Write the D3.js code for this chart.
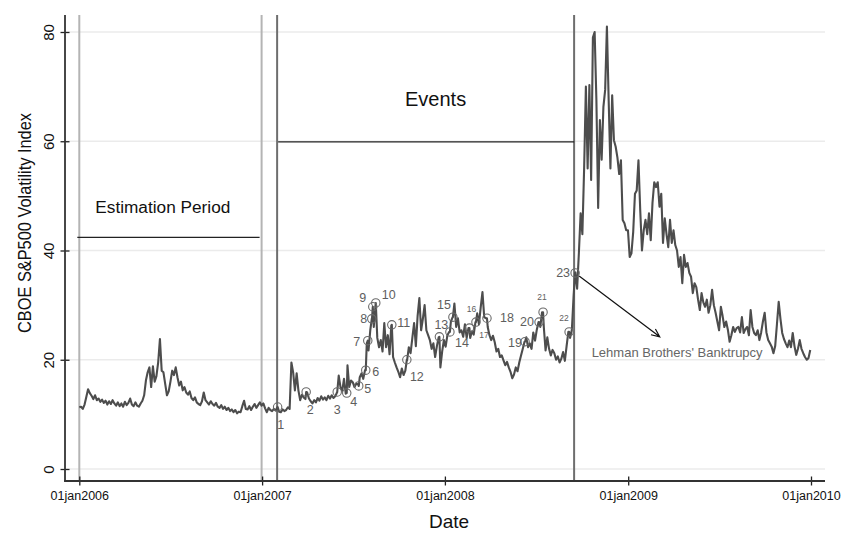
<!DOCTYPE html>
<html>
<head>
<meta charset="utf-8">
<script src="https://cdn.jsdelivr.net/npm/d3@7.9.0/dist/d3.min.js"></script>
<style>
  html, body { margin: 0; padding: 0; background: #fff; overflow: hidden; }
  svg { display: block; font-family: "Liberation Sans", Arial, Helvetica, sans-serif; }
</style>
</head>
<body>
<svg id="chart" width="842" height="533"></svg>
<script>
/* ------------------------------ Data ------------------------------ */
// CBOE VIX, one reading every half week from 01jan2006
const vix2006 = [
  11.3, 11.4, 11.0, 11.8, 13.2, 14.6, 13.9, 13.4, 12.8, 13.5,
  12.6, 12.9, 12.3, 12.7, 12.1, 12.5, 11.8, 12.4, 11.9, 12.6,
  12.0, 11.6, 12.2, 11.5, 12.0, 11.4, 12.3, 11.7, 12.1, 12.9,
  11.8, 11.5, 12.2, 11.6, 11.4, 12.0, 12.5, 13.5, 16.2, 17.7,
  18.6, 15.0, 18.8, 16.0, 17.0, 19.5, 23.8, 18.0, 17.7, 15.6,
  13.5, 14.2, 16.0, 18.0, 17.2, 18.6, 16.8, 15.3, 16.0, 14.4,
  15.0, 14.0, 13.6, 14.2, 13.0, 12.6, 13.1, 12.2, 11.9, 11.7,
  12.4, 14.0, 12.6, 12.2, 11.8, 12.4, 11.9, 11.6, 12.1, 11.4,
  11.2, 11.7, 11.0, 11.4, 10.8, 11.2, 10.6, 10.9, 10.4, 10.8,
  10.2, 10.5, 10.4, 11.5, 12.5, 11.0, 10.9, 11.5, 10.8, 11.4,
  11.9, 11.2, 11.7, 12.2
];
const vix2007 = [
  11.6, 12.0, 11.1, 10.4, 11.2, 10.8, 10.6, 11.0, 10.7, 11.3,
  10.5, 10.4, 10.9, 10.6, 10.8, 11.3, 11.0, 19.5, 17.7, 14.4,
  17.5, 14.4, 12.6, 13.6, 13.1, 12.8, 14.0, 12.9, 12.4, 12.0,
  12.6, 12.2, 13.0, 12.5, 13.3, 12.7, 13.1, 12.6, 13.4, 12.9,
  13.5, 13.0, 13.3, 14.0, 17.1, 15.0, 14.3, 16.5, 13.8, 19.0,
  15.0, 16.2, 15.9, 15.0, 15.6, 15.5, 16.8, 17.5, 16.5, 18.1,
  23.0, 21.7, 25.4, 27.6, 26.0, 30.0, 24.0, 22.3, 23.6, 21.5,
  26.7, 22.3, 24.5, 21.0, 26.3, 20.5, 19.5, 18.6, 17.8, 16.8,
  18.4, 17.2, 18.0, 19.9, 22.3, 21.2, 24.0, 26.7, 22.5, 28.0,
  31.3, 25.4, 27.5, 30.0, 25.4, 24.5, 23.6, 22.0, 23.0, 20.5,
  22.5, 24.1, 18.6, 21.5
];
const vix2008 = [
  23.6, 22.4, 24.5, 25.1, 27.0, 27.8, 30.3, 26.0, 27.6, 25.0,
  25.4, 24.2, 26.5, 24.0, 25.8, 24.0, 25.2, 24.6, 26.9, 28.5,
  26.5, 29.6, 32.4, 27.8, 27.6, 26.0, 24.5, 23.6, 24.4, 23.2,
  21.5, 22.0, 20.5, 20.8, 19.9, 19.0, 19.6, 18.6, 17.8, 16.6,
  17.3, 18.6, 17.9, 19.5, 20.8, 22.0, 23.3, 24.1, 22.3, 23.0,
  22.0, 25.0, 23.5, 25.5, 26.9, 26.0, 28.7, 26.0, 21.7, 24.1,
  22.0, 20.8, 21.8, 21.2, 20.0, 20.6, 19.5, 20.2, 21.4, 19.8,
  22.5, 25.1, 24.0, 25.5, 31.7, 36.0, 33.0, 39.5, 46.8, 43.0,
  55.0, 70.0, 55.0, 70.3, 52.9, 79.0, 80.0, 67.5, 47.8, 63.9,
  56.6, 66.3, 69.4, 81.0, 67.5, 55.0, 68.4, 60.2, 59.0, 57.0,
  54.0, 56.5, 45.6, 45.0, 43.7
];
const vix2009 = [
  43.7, 38.8, 39.5, 43.4, 50.4, 51.0, 56.5, 47.4, 40.0, 43.7,
  45.6, 43.0, 46.8, 41.9, 48.7, 52.5, 51.6, 52.5, 48.0, 50.4,
  41.4, 45.9, 43.0, 40.6, 45.6, 41.4, 43.7, 41.0, 40.0, 37.0,
  38.8, 34.0, 39.2, 37.0, 37.7, 35.9, 35.2, 32.2, 34.0, 33.3,
  31.0, 29.1, 32.2, 30.5, 29.7, 31.0, 28.6, 30.0, 32.8, 30.0,
  28.6, 27.0, 25.4, 29.7, 28.0, 26.0, 27.0, 25.5, 23.3, 24.5,
  26.0, 25.1, 25.8, 26.0, 25.0, 27.8, 24.9, 25.6, 26.0, 24.5,
  29.1, 26.0, 24.9, 24.5, 25.4, 23.6, 25.0, 27.0, 28.6, 25.0,
  23.6, 23.0, 22.4, 21.2, 22.5, 26.5, 30.6, 27.5, 24.9, 23.8,
  23.0, 22.3, 23.5, 22.3, 24.9, 22.5, 20.9, 22.0, 23.6, 22.0,
  21.2, 20.5, 20.0, 20.3, 21.8
];

// numbered events marked on the series
const eventLabels = d3.range(1, 24).map(String);
const eventDates = [
  "2007-02-01", "2007-03-30", "2007-05-31", "2007-06-19", "2007-07-13",
  "2007-07-27", "2007-07-31", "2007-08-08", "2007-08-10", "2007-08-16",
  "2007-09-17", "2007-10-17", "2007-12-21", "2008-01-11", "2008-01-17",
  "2008-02-19", "2008-03-03", "2008-03-25", "2008-06-09", "2008-07-07",
  "2008-07-15", "2008-09-05", "2008-09-17"
];
const eventValues = [
  11.35, 14.1, 14.1, 13.9, 15.2, 18.1, 23.5, 27.5, 29.7, 30.4,
  26.4, 20.0, 24.2, 25.1, 27.8, 25.8, 26.9, 27.6, 23.3, 26.9,
  28.7, 25.1, 35.9
];

// period boundaries, tick labels
const periodDates = ["2006-01-01", "2006-12-31", "2007-01-31", "2008-09-15"];
const xTickDates = ["2006-01-01", "2007-01-01", "2008-01-01", "2009-01-01", "2010-01-01"];
const yTickValues = [0, 20, 40, 60, 80];
const estimationLevel = 42.4;
const eventsLevel = 59.9;
const lehmanLabelAt = { date: "2008-10-20", value: 20.5 };
const lehmanArrowTo = { date: "2009-03-05", value: 24.2 };

/* ----------------------------- Layout ----------------------------- */
// label offsets [dx, dy] from each event marker
const labelOffsets = [
  [3, 18], [4, 18], [0, 18], [7, 9], [9, 3], [10, 2], [-11, 1], [-8, 0], [-10, -9], [13, -8],
  [12, -2], [10, 17], [2, -12], [12, 11], [-9, -12], [2, -19], [8, 13], [20, 0], [-10, 1], [-12, 0],
  [-1, -15], [-5, -14], [-12, 0]
];
const smallLabels = new Set(["16", "17", "21", "22"]);

const parse = d3.utcParse("%Y-%m-%d");
const svg = d3.select("#chart");

const x = d3.scaleUtc()
  .domain([parse("2006-01-01"), parse("2010-01-01")])
  .range([79.3, 811]);
const y = d3.scaleLinear().domain([0, 80]).range([469, 32]);

const AX_LEFT = 65, AX_RIGHT = 825, AX_TOP = 15, AX_BOTTOM = 481;

/* -------------------------- Build series -------------------------- */
const t0 = parse("2006-01-01").getTime();
const HALF_WEEK = 3.5 * 864e5;
const readings = [...vix2006, ...vix2007, ...vix2008, ...vix2009]
  .map((v, i) => ({ date: new Date(t0 + i * HALF_WEEK), value: v }));

const events = eventDates.map((d, i) => ({
  date: parse(d), value: eventValues[i], label: eventLabels[i], off: labelOffsets[i]
}));

const series = readings.concat(events.map(e => ({ date: e.date, value: e.value })))
  .sort((a, b) => a.date - b.date);

/* ------------------------------ Grid ------------------------------ */
svg.append("g")
  .selectAll("line")
  .data(yTickValues)
  .join("line")
  .attr("x1", AX_LEFT).attr("x2", AX_RIGHT)
  .attr("y1", d => y(d)).attr("y2", d => y(d))
  .attr("stroke", "#ebebeb")
  .attr("stroke-width", 1.5);

/* ------------------------- Period markers ------------------------- */
svg.append("g")
  .selectAll("line")
  .data(periodDates)
  .join("line")
  .attr("x1", d => x(parse(d))).attr("x2", d => x(parse(d)))
  .attr("y1", AX_TOP).attr("y2", AX_BOTTOM)
  .attr("stroke", (d, i) => (i < 2 ? "#b4b4b4" : "#6e6e6e"))
  .attr("stroke-width", 2);

const notes = svg.append("g").attr("fill", "#111");

notes.append("line")
  .attr("x1", x(parse(periodDates[0])) - 2).attr("x2", x(parse(periodDates[1])) - 2)
  .attr("y1", y(estimationLevel)).attr("y2", y(estimationLevel))
  .attr("stroke", "#222").attr("stroke-width", 1.3);

notes.append("line")
  .attr("x1", x(parse(periodDates[2])) + 1).attr("x2", x(parse(periodDates[3])))
  .attr("y1", y(eventsLevel)).attr("y2", y(eventsLevel))
  .attr("stroke", "#222").attr("stroke-width", 1.3);

notes.append("text")
  .attr("x", x(parse(periodDates[0])) + 16)
  .attr("y", y(estimationLevel) - 24)
  .attr("font-size", 16)
  .attr("textLength", 135)
  .attr("lengthAdjust", "spacingAndGlyphs")
  .text("Estimation Period");

notes.append("text")
  .attr("x", (x(parse(periodDates[2])) + x(parse(periodDates[3]))) / 2 + 10)
  .attr("y", y(eventsLevel) - 36)
  .attr("text-anchor", "middle")
  .attr("font-size", 20)
  .text("Events");

/* ------------------------------ Axes ------------------------------ */
const yAxis = svg.append("g")
  .attr("transform", `translate(${AX_LEFT},0)`)
  .call(d3.axisLeft(y).tickValues(yTickValues).tickSize(4.5));
yAxis.select(".domain").remove();
yAxis.selectAll(".tick line").attr("x1", 4.5).attr("stroke", "#222").attr("stroke-width", 1.3);
yAxis.selectAll(".tick text")
  .attr("x", null).attr("dy", null)
  .attr("transform", "translate(-11,0) rotate(-90)")
  .attr("text-anchor", "middle")
  .attr("fill", "#111")
  .attr("font-size", 15)
  .attr("font-family", null);

const xAxis = svg.append("g")
  .attr("transform", `translate(0,${AX_BOTTOM})`)
  .call(d3.axisBottom(x)
    .tickValues(xTickDates.map(parse))
    .tickSize(4.5)
    .tickFormat(d => d3.utcFormat("%d%b%Y")(d).toLowerCase()));
xAxis.select(".domain").remove();
xAxis.selectAll(".tick line").attr("y1", -4.5).attr("stroke", "#222").attr("stroke-width", 1.3);
xAxis.selectAll(".tick text")
  .attr("y", 19).attr("dy", null)
  .attr("fill", "#111")
  .attr("font-size", 12.5)
  .attr("font-family", null);

svg.append("line")
  .attr("x1", AX_LEFT).attr("x2", AX_LEFT)
  .attr("y1", AX_TOP).attr("y2", AX_BOTTOM + 0.8)
  .attr("stroke", "#333").attr("stroke-width", 1.8);
svg.append("line")
  .attr("x1", AX_LEFT - 0.9).attr("x2", AX_RIGHT)
  .attr("y1", AX_BOTTOM).attr("y2", AX_BOTTOM)
  .attr("stroke", "#333").attr("stroke-width", 1.8);

svg.append("text")
  .attr("transform", "translate(31,223) rotate(-90)")
  .attr("text-anchor", "middle")
  .attr("font-size", 19)
  .attr("textLength", 220)
  .attr("lengthAdjust", "spacingAndGlyphs")
  .attr("fill", "#111")
  .text("CBOE S&P500 Volatility Index");

svg.append("text")
  .attr("x", 449).attr("y", 528)
  .attr("text-anchor", "middle")
  .attr("font-size", 19)
  .attr("fill", "#111")
  .text("Date");

/* ------------------------------ Series ----------------------------- */
const line = d3.line().x(d => x(d.date)).y(d => y(d.value));

svg.append("path")
  .datum(series)
  .attr("d", line)
  .attr("fill", "none")
  .attr("stroke", "#4d4d4d")
  .attr("stroke-width", 2.1)
  .attr("stroke-linejoin", "round");

/* ------------------------------ Events ----------------------------- */
const ev = svg.append("g");
ev.selectAll("circle")
  .data(events)
  .join("circle")
  .attr("cx", d => x(d.date))
  .attr("cy", d => y(d.value))
  .attr("r", 4.2)
  .attr("fill", "none")
  .attr("stroke", "#6a6a6a")
  .attr("stroke-width", 1.1);

ev.selectAll("text")
  .data(events)
  .join("text")
  .attr("x", d => x(d.date) + d.off[0])
  .attr("y", d => y(d.value) + d.off[1])
  .attr("text-anchor", "middle")
  .attr("dominant-baseline", "central")
  .attr("font-size", d => (smallLabels.has(d.label) ? 8.5 : 12.5))
  .attr("fill", "#5e5e5e")
  .text(d => d.label);

/* ------------------------- Lehman annotation ----------------------- */
const last = events[events.length - 1];
const ax0 = x(last.date) + 4, ay0 = y(last.value) + 3;
const ax1 = x(parse(lehmanArrowTo.date)), ay1 = y(lehmanArrowTo.value);
const ang = Math.atan2(ay1 - ay0, ax1 - ax0);
const head = 9, spread = 0.42;

svg.append("path")
  .attr("d", `M${ax0},${ay0}L${ax1},${ay1}` +
    `M${ax1 - head * Math.cos(ang - spread)},${ay1 - head * Math.sin(ang - spread)}L${ax1},${ay1}` +
    `L${ax1 - head * Math.cos(ang + spread)},${ay1 - head * Math.sin(ang + spread)}`)
  .attr("fill", "none")
  .attr("stroke", "#111")
  .attr("stroke-width", 1.2);

svg.append("text")
  .attr("x", x(parse(lehmanLabelAt.date)))
  .attr("y", y(lehmanLabelAt.value))
  .attr("font-size", 13)
  .attr("textLength", 171)
  .attr("lengthAdjust", "spacingAndGlyphs")
  .attr("fill", "#666")
  .text("Lehman Brothers' Banktrupcy");
</script>
</body>
</html>
